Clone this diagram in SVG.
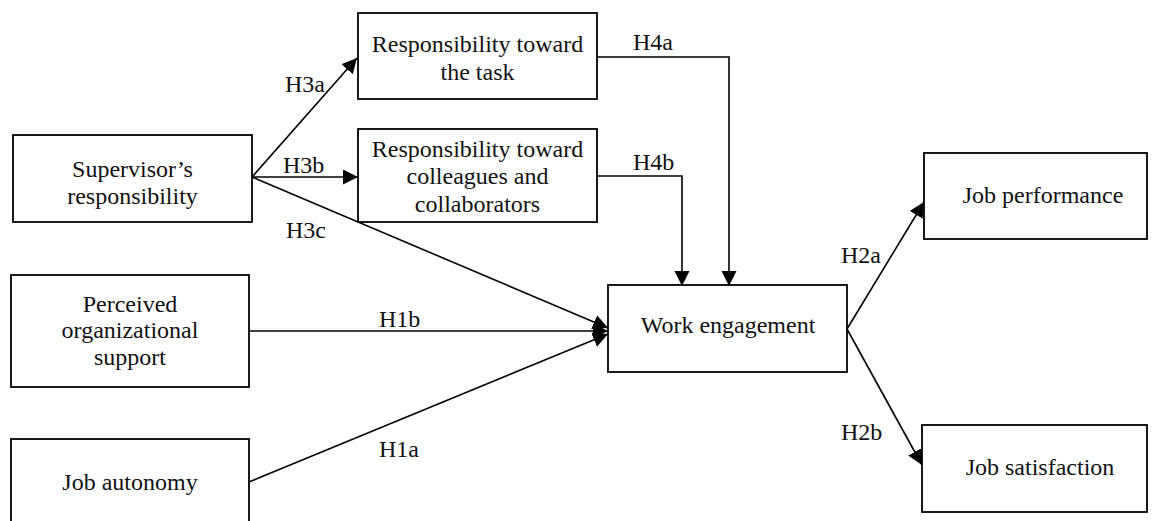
<svg xmlns="http://www.w3.org/2000/svg" width="1155" height="521" viewBox="0 0 1155 521">
<style>
.box{fill:#fff;stroke:#000;stroke-width:1.8}
.t{font-family:"Liberation Serif","Times New Roman",serif;font-size:24px;fill:#111}
.c{text-anchor:middle}
.ln{fill:none;stroke:#000;stroke-width:1.6}
</style>
<defs>
<marker id="ah" markerUnits="userSpaceOnUse" markerWidth="16" markerHeight="16" refX="15" refY="7.5" orient="auto">
<path d="M0,0 L15,7.5 L0,15 z" fill="#000"/>
</marker>
</defs>
<rect width="1155" height="521" fill="#fff"/>
<g id="connectors">
<line class="ln" x1="252" y1="177" x2="357" y2="58" marker-end="url(#ah)"/>
<line class="ln" x1="252" y1="177" x2="358" y2="177" marker-end="url(#ah)"/>
<line class="ln" x1="252" y1="177" x2="608" y2="328" marker-end="url(#ah)"/>
<polyline class="ln" points="597,57 729,57 729,286" marker-end="url(#ah)"/>
<polyline class="ln" points="597,176 682,176 682,286" marker-end="url(#ah)"/>
<line class="ln" x1="249" y1="331" x2="608" y2="331" marker-end="url(#ah)"/>
<line class="ln" x1="249" y1="482" x2="608" y2="334" marker-end="url(#ah)"/>
<line class="ln" x1="847" y1="329" x2="924" y2="202" marker-end="url(#ah)"/>
<line class="ln" x1="847" y1="329" x2="922" y2="465" marker-end="url(#ah)"/>
<text class="t" x="285" y="92">H3a</text>
<text class="t" x="283" y="173">H3b</text>
<text class="t" x="286" y="238">H3c</text>
<text class="t" x="633" y="50">H4a</text>
<text class="t" x="633" y="170">H4b</text>
<text class="t" x="379" y="327">H1b</text>
<text class="t" x="379" y="457">H1a</text>
<text class="t" x="841" y="263">H2a</text>
<text class="t" x="841" y="440">H2b</text>
</g>
<g id="supervisor">
<rect class="box" x="13" y="135" width="239" height="87"/>
<text class="t c" x="132.5" y="177">Supervisor’s</text>
<text class="t c" x="132.5" y="204">responsibility</text>
</g>
<g id="task">
<rect class="box" x="358" y="13" width="239" height="86"/>
<text class="t c" x="477.5" y="52">Responsibility toward</text>
<text class="t c" x="477.5" y="80">the task</text>
</g>
<g id="colleagues">
<rect class="box" x="358" y="129" width="239" height="93"/>
<text class="t c" x="477.5" y="157">Responsibility toward</text>
<text class="t c" x="477.5" y="184">colleagues and</text>
<text class="t c" x="477.5" y="212">collaborators</text>
</g>
<g id="perceived">
<rect class="box" x="11" y="275" width="238" height="112"/>
<text class="t c" x="130" y="312">Perceived</text>
<text class="t c" x="130" y="338">organizational</text>
<text class="t c" x="130" y="365">support</text>
</g>
<g id="autonomy">
<rect class="box" x="11" y="439" width="238" height="95"/>
<text class="t c" x="130" y="490">Job autonomy</text>
</g>
<g id="engagement">
<rect class="box" x="608" y="285" width="239" height="87"/>
<text class="t c" x="728" y="333">Work engagement</text>
</g>
<g id="performance">
<rect class="box" x="924" y="153" width="223" height="86"/>
<text class="t c" x="1043" y="203">Job performance</text>
</g>
<g id="satisfaction">
<rect class="box" x="922" y="425" width="225" height="87"/>
<text class="t c" x="1040" y="475">Job satisfaction</text>
</g>
</svg>
